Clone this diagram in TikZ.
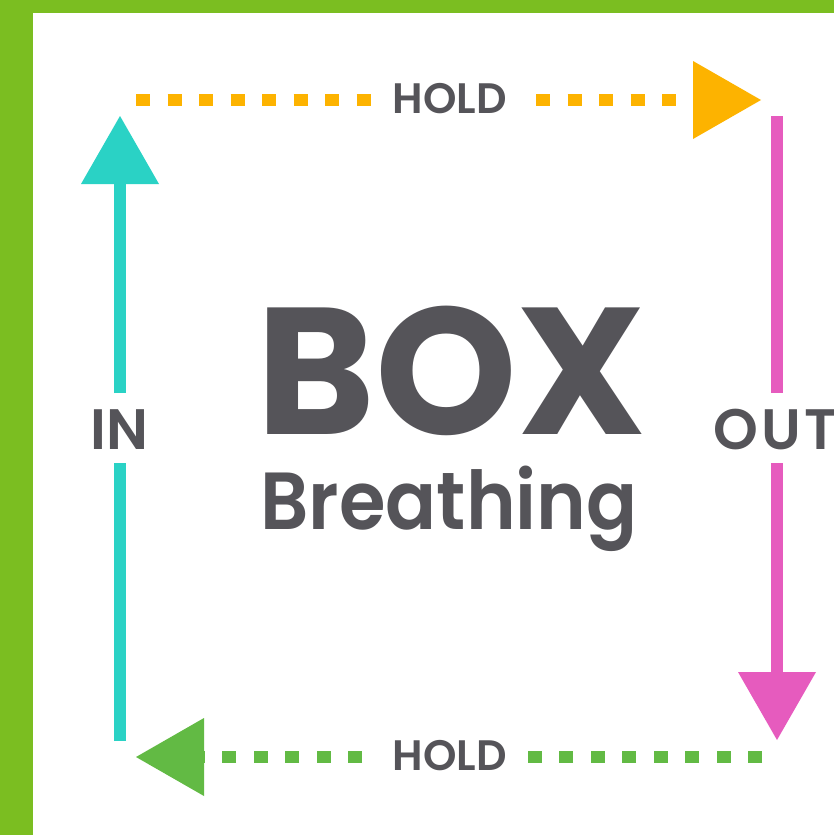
\documentclass[tikz,border=0pt]{standalone}
\usepackage{fontspec}
\setmainfont{Poppins}
\newfontfamily\poppinssb{Poppins SemiBold}
\newfontfamily\poppinsnarrow{Poppins SemiBold}[FakeStretch=0.93]
\newfontfamily\poppinswide{Poppins SemiBold}[LetterSpace=6]
\usetikzlibrary{arrows.meta}
\definecolor{framegreen}{HTML}{7BBE21}
\definecolor{cyanc}{HTML}{2AD2C5}
\definecolor{orangec}{HTML}{FDB300}
\definecolor{pinkc}{HTML}{E65BBE}
\definecolor{greenc}{HTML}{62BA44}
\definecolor{txt}{HTML}{555459}
\tikzset{
  shaft/.style={line width=6pt, line cap=butt},
  dotline/.style={line width=6pt, line cap=butt, dash pattern=on 7pt off 8.75pt},
  headtip/.style={-{Triangle[width=39pt,length=34pt,line width=0pt]}},
  lbl/.style={inner sep=0pt, text=txt, font=\bfseries\fontsize{#1}{#1}\selectfont},
  sblbl/.style={inner sep=0pt, text=txt, font=\poppinssb\fontsize{#1}{#1}\selectfont}
}
\begin{document}
\begin{tikzpicture}[x=0.5pt,y=-0.5pt]
\useasboundingbox (0,0) rectangle (834,835);
\clip (0,0) rectangle (834,835);
\fill[white] (0,0) rectangle (834,835);
\fill[framegreen] (0,0) rectangle (834,12.7);
\fill[framegreen] (0,0) rectangle (33,835);

% labels
\node[lbl=90.2, anchor=base] (box) at (451.5,434) {BOX};
\node[sblbl=40.5, font=\poppinsnarrow\fontsize{40.5}{40.5}\selectfont, anchor=base] (breath) at (449,529) {Breathing};
\node[sblbl=28.5, anchor=base] (in) at (119.5,449) {IN};
\node[sblbl=28.5, font=\poppinswide\fontsize{28.5}{28.5}\selectfont, anchor=base west] (out) at (713,449) {OUT};
\node[sblbl=21.3, anchor=base] (holdtop) at (449.5,113) {HOLD};
\node[sblbl=21.3, anchor=base] (holdbot) at (449.5,770) {HOLD};

% coordinates
\coordinate (cB) at (120,741);
\coordinate (cL) at (120,463);
\coordinate (cU) at (120,393);
\coordinate (cT) at (120,116);
\coordinate (pT) at (777,116);
\coordinate (pU) at (777,393);
\coordinate (pL) at (777,463);
\coordinate (pB) at (777,740);
\coordinate (oA) at (136,100);
\coordinate (oB) at (370.5,100);
\coordinate (oC) at (536,100);
\coordinate (oD) at (761,100);
\coordinate (gA) at (762,757);
\coordinate (gB) at (527.5,757);
\coordinate (gC) at (362,757);
\coordinate (gD) at (136,757);

% IN (cyan)
\draw[shaft, cyanc] (cB) -- (cL);
\draw[shaft, cyanc, headtip] (cU) -- (cT);
% OUT (pink)
\draw[shaft, pinkc] (pT) -- (pU);
\draw[shaft, pinkc, headtip] (pL) -- (pB);
% HOLD top (orange)
\draw[dotline, orangec] (oA) -- (oB);
\draw[dotline, orangec, headtip] (oC) -- (oD);
% HOLD bottom (green)
\draw[dotline, greenc] (gA) -- (gB);
\draw[dotline, greenc, headtip] (gC) -- (gD);
\end{tikzpicture}
\end{document}
